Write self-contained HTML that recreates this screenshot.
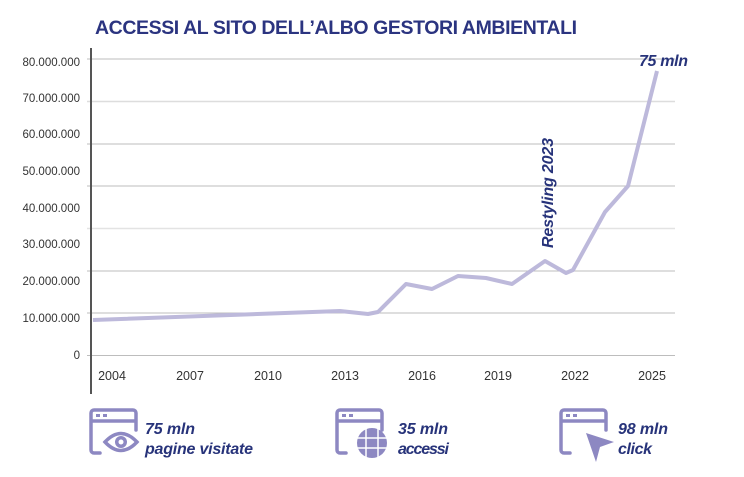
<!DOCTYPE html>
<html><head><meta charset="utf-8"><style>
body{margin:0;background:#fff;width:744px;height:477px;overflow:hidden}
svg{display:block;font-family:"Liberation Sans",sans-serif}
.yl{font-size:11.5px;fill:#333;text-anchor:end}
.xl{font-size:12.5px;fill:#333;text-anchor:middle}
.bt{font-size:16px;font-weight:bold;font-style:italic;fill:#27337a}
</style></head><body>
<svg width="744" height="477" viewBox="0 0 744 477">
<text x="95" y="34" font-size="19.5" font-weight="bold" fill="#2b3480" textLength="482">ACCESSI AL SITO DELL’ALBO GESTORI AMBIENTALI</text>
<g stroke="#bdbdbd" stroke-width="1">
<line x1="87" y1="59" x2="675" y2="59"/><line x1="87" y1="101.5" x2="675" y2="101.5" stroke="#ddd" stroke-width="1.5"/>
<line x1="87" y1="144" x2="675" y2="144"/><line x1="87" y1="186" x2="675" y2="186"/>
<line x1="87" y1="228.5" x2="675" y2="228.5" stroke="#e3e3e3" stroke-width="1.5"/><line x1="87" y1="271" x2="675" y2="271"/>
<line x1="87" y1="313" x2="675" y2="313"/><line x1="87" y1="355.5" x2="675" y2="355.5"/>
</g>
<line x1="91" y1="48" x2="91" y2="394" stroke="#555" stroke-width="2"/>
<g class="yl">
<text x="80" y="66">80.000.000</text><text x="80" y="102">70.000.000</text><text x="80" y="138">60.000.000</text>
<text x="80" y="175">50.000.000</text><text x="80" y="212">40.000.000</text><text x="80" y="248">30.000.000</text>
<text x="80" y="285">20.000.000</text><text x="80" y="322">10.000.000</text><text x="80" y="359">0</text>
</g>
<g class="xl">
<text x="112" y="380">2004</text><text x="190" y="380">2007</text><text x="268" y="380">2010</text><text x="345" y="380">2013</text>
<text x="422" y="380">2016</text><text x="498" y="380">2019</text><text x="575" y="380">2022</text><text x="652" y="380">2025</text>
</g>
<polyline fill="none" stroke="#bdb9db" stroke-width="4" stroke-linejoin="round"
points="93,320 340,311 368,314 378,312 406,284 432,289 458,276 486,278 512,284 545,261 566,273 573,270 605,212 628,186 657,71"/>
<text class="bt" x="0" y="0" transform="translate(553,248) rotate(-90)" font-size="15" textLength="110">Restyling 2023</text>
<text class="bt" x="639" y="66" font-size="15" textLength="49">75 mln</text>
<g fill="none" stroke="#8d88c2" stroke-width="3.5" stroke-linecap="round">
<path d="M100,453 H94 a3,3 0 0 1 -3,-3 V413 a3,3 0 0 1 3,-3 H133 a3,3 0 0 1 3,3 V430 M91,421 H136"/>
<path d="M346,453 H340 a3,3 0 0 1 -3,-3 V413 a3,3 0 0 1 3,-3 H379 a3,3 0 0 1 3,3 V430 M337,421 H382"/>
<path d="M570,453 H564 a3,3 0 0 1 -3,-3 V413 a3,3 0 0 1 3,-3 H603 a3,3 0 0 1 3,3 V430 M561,421 H606"/>
<path d="M105,442 Q121,425 137,442 Q121,459 105,442 Z"/>
</g>
<g fill="#8d88c2">
<rect x="96" y="414" width="4" height="3"/><rect x="103" y="414" width="4" height="3"/>
<rect x="342" y="414" width="4" height="3"/><rect x="349" y="414" width="4" height="3"/>
<rect x="566" y="414" width="4" height="3"/><rect x="573" y="414" width="4" height="3"/>
<circle cx="121" cy="442" r="6"/>
<circle cx="372" cy="443" r="15"/>
<path d="M586,433 L614,442 L600,447 L596,462 Z"/>
</g>
<circle cx="121" cy="442" r="2.5" fill="#fff"/>
<g stroke="#fff" stroke-width="1.5" fill="none">
<line x1="357" y1="438" x2="387" y2="438"/><line x1="357" y1="448" x2="387" y2="448"/>
<line x1="366" y1="428" x2="366" y2="458"/><line x1="378" y1="428" x2="378" y2="458"/>
</g>
<text class="bt" x="145" y="434" textLength="50">75 mln</text><text class="bt" x="145" y="454" textLength="108">pagine visitate</text>
<text class="bt" x="398" y="434" textLength="50">35 mln</text><text class="bt" x="398" y="454" textLength="51">accessi</text>
<text class="bt" x="618" y="434" textLength="50">98 mln</text><text class="bt" x="618" y="454" textLength="34">click</text>
</svg>
</body></html>
